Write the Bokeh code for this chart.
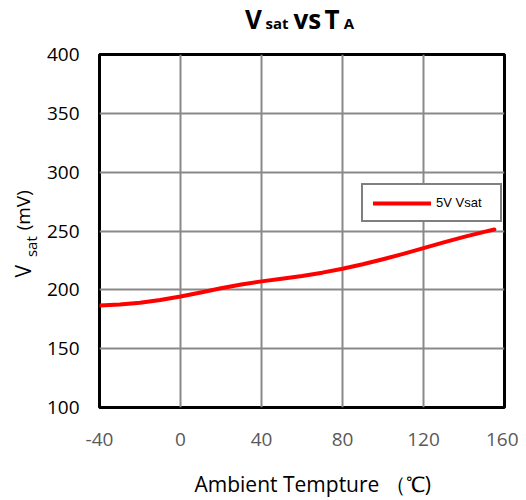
import math
from bokeh.plotting import figure
from bokeh.layouts import column, row
from bokeh.models import Range1d, FixedTicker, Legend, LegendItem, ColumnDataSource
from bokeh.embed import file_html
from bokeh.resources import INLINE
from bokeh.core.properties import value

# ---- Data ----
temps = [-40, -30, -20, -10, 0, 10, 20, 30, 40, 50, 60, 70, 80, 90, 100, 110, 120, 130, 140, 150, 155]
vsat_5v = [186.6, 187.6, 189.0, 191.3, 194.3, 197.8, 201.3, 204.5, 207.2, 209.5, 211.8,
           214.6, 217.9, 221.7, 226.0, 230.6, 235.4, 240.4, 245.0, 249.3, 251.3]
x_ticks = [-40, 0, 40, 80, 120, 160]
y_ticks = [100, 150, 200, 250, 300, 350, 400]
x_tick_labels = {-40: "-40"}
series_name = "5V Vsat"
x_label = "Ambient Tempture （℃)"

FONT = "Open Sans"
W = 518
TITLE_H = 38
MAIN_H = 423
XLAB_H = 37


def blank(width, height):
    f = figure(width=width, height=height, output_backend="svg", toolbar_location=None,
               x_range=Range1d(0, width), y_range=Range1d(0, height),
               min_border=0, min_border_left=0, min_border_right=0,
               min_border_top=0, min_border_bottom=0)
    f.axis.visible = False
    f.grid.visible = False
    f.outline_line_color = None
    f.background_fill_color = "white"
    f.border_fill_color = "white"
    return f


def txt(f, x, y, s, size, bold=False, angle=0.0, color="black", align="left",
        baseline="alphabetic"):
    f.text(x=[x], y=[y], text=[s], text_font=value(FONT), text_font_size=size,
           text_font_style="bold" if bold else "normal", text_color=color,
           angle=angle, text_align=align, text_baseline=baseline)


# ---- Title strip: V_sat vs T_A ----
t_fig = blank(W, TITLE_H)
txt(t_fig, 244.5, 37.7, "V", "26px", bold=True, baseline="top")
txt(t_fig, 265.0, 25.5, "sat", "15px", bold=True, baseline="top")
txt(t_fig, 293.0, 37.7, "vs", "26px", bold=True, baseline="top")
txt(t_fig, 324.0, 37.7, "T", "26px", bold=True, baseline="top")
txt(t_fig, 343.3, 25.5, "A", "15px", bold=True, baseline="top")

# ---- Main plot ----
p = figure(width=W - 43, height=MAIN_H, output_backend="svg", toolbar_location=None,
           x_range=Range1d(-40, 160), y_range=Range1d(100, 400),
           min_border_left=56, min_border_right=14, min_border_top=16, min_border_bottom=54)
p.background_fill_color = "white"
p.border_fill_color = "white"
p.outline_line_color = "black"
p.outline_line_width = 3

src = ColumnDataSource(dict(t=temps, v=vsat_5v))
r = p.line("t", "v", source=src, line_color="#ff0000", line_width=4,
           line_join="round", line_cap="round")

for ax in (p.xaxis[0], p.yaxis[0]):
    ax.axis_line_color = None
    ax.major_tick_line_color = None
    ax.minor_tick_line_color = None
    ax.major_tick_out = 0
    ax.major_tick_in = 0
    ax.major_label_text_font = FONT
    ax.major_label_text_font_size = "19px"

p.xaxis[0].ticker = FixedTicker(ticks=x_ticks)
p.yaxis[0].ticker = FixedTicker(ticks=y_ticks)
p.xaxis[0].major_label_overrides = x_tick_labels
p.xaxis[0].major_label_text_color = "#595959"
p.yaxis[0].major_label_text_color = "#000000"
p.xaxis[0].major_label_standoff = 25
p.yaxis[0].major_label_standoff = 20

p.xgrid[0].ticker = FixedTicker(ticks=x_ticks)
p.ygrid[0].ticker = FixedTicker(ticks=y_ticks)
for g in (p.xgrid[0], p.ygrid[0]):
    g.grid_line_color = "#898989"
    g.grid_line_width = 2

legend = Legend(items=[LegendItem(label=series_name, renderers=[r])],
                location=(262, 185), padding=10, margin=0, spacing=0,
                glyph_width=58, glyph_height=14, label_height=14, label_width=54,
                label_standoff=5,
                border_line_color="black", border_line_width=2,
                background_fill_color="white", background_fill_alpha=1.0,
                label_text_font="Liberation Sans",
                label_text_font_size="13px", label_text_color="black")
p.add_layout(legend, "center")

# ---- Y label strip: V_sat (mV) rotated ----
y_fig = blank(43, MAIN_H)
rot = math.pi / 2
txt(y_fig, 22.5, 155.7, "V", "21px", angle=rot)
txt(y_fig, 30.7, 180.3, "sat", "15px", angle=rot)
txt(y_fig, 22.0, 212.3, "(mV)", "19px", angle=rot)

# ---- X label strip ----
x_fig = blank(W, XLAB_H)
txt(x_fig, 194.0, 15.0, x_label, "21px")

layout = column(t_fig, row(y_fig, p, spacing=0), x_fig, spacing=0)
open("out.html", "w").write(file_html(layout, INLINE))
